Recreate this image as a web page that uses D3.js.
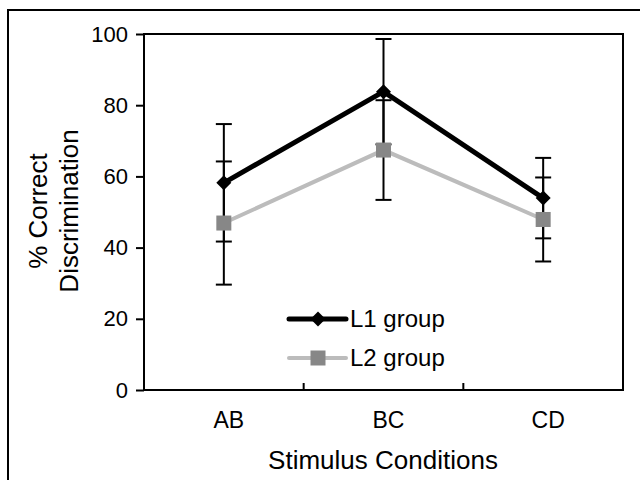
<!DOCTYPE html>
<html>
<head>
<meta charset="utf-8">
<script src="https://cdn.jsdelivr.net/npm/d3@7"></script>
<style>
  html, body { margin: 0; padding: 0; background: #fff; }
  svg { display: block; }
  text { font-family: "Liberation Sans", Arial, Helvetica, sans-serif; fill: #000; }
</style>
</head>
<body>
<svg id="chart" width="640" height="480"></svg>
<script>
const categories = ["AB", "BC", "CD"];
const l1Values = [58.2, 83.8, 53.9];
const l1Errors = [16.5, 14.8, 11.3];
const l2Values = [46.9, 67.4, 47.9];
const l2Errors = [17.3, 14.0, 11.8];
const yTicks = [0, 20, 40, 60, 80, 100];
const seriesNames = ["L1 group", "L2 group"];
const xTitle = "Stimulus Conditions";
const yTitleLines = ["% Correct", "Discrimination"];

const svg = d3.select("#chart");
const plotL = 144, plotR = 623, plotT = 34, plotB = 390;

// outer frame
svg.append("rect")
  .attr("x", 8).attr("y", 10).attr("width", 660).attr("height", 500)
  .attr("fill", "none").attr("stroke", "#000").attr("stroke-width", 2);

const x = d3.scaleBand().domain(categories).range([plotL, plotR]);
const y = d3.scaleLinear().domain([0, 100]).range([plotB, plotT]);

// plot box
svg.append("rect")
  .attr("x", plotL).attr("y", plotT)
  .attr("width", plotR - plotL).attr("height", plotB - plotT)
  .attr("fill", "none").attr("stroke", "#000").attr("stroke-width", 2);

// y axis
const yAxis = d3.axisLeft(y).tickValues(yTicks).tickSize(8).tickSizeOuter(0).tickPadding(8);
const gy = svg.append("g").attr("transform", `translate(${plotL},0)`).call(yAxis);
gy.select(".domain").remove();
gy.selectAll(".tick line").attr("stroke", "#000").attr("stroke-width", 2);
gy.selectAll(".tick text").style("font-size", "22px").style("font-family", "'Liberation Sans', Arial, sans-serif").attr("fill", "#000");

// x axis: ticks at band boundaries (inside), labels at centers
categories.slice(1).forEach(c => {
  svg.append("line")
    .attr("x1", x(c)).attr("x2", x(c))
    .attr("y1", plotB).attr("y2", plotB - 7)
    .attr("stroke", "#000").attr("stroke-width", 2);
});
svg.selectAll(".xlab").data(categories).enter().append("text")
  .attr("class", "xlab")
  .attr("x", d => x(d) + x.bandwidth() / 2 + 5)
  .attr("y", 428)
  .attr("text-anchor", "middle")
  .style("font-size", "23px")
  .text(d => d);

// titles
svg.append("text")
  .attr("x", 383).attr("y", 469)
  .attr("text-anchor", "middle")
  .style("font-size", "26px")
  .text(xTitle);

const yt = svg.append("text")
  .attr("transform", "translate(47,211) rotate(-90)")
  .attr("text-anchor", "middle")
  .style("font-size", "26px");
yt.append("tspan").attr("x", 0).attr("y", 0).text(yTitleLines[0]);
yt.append("tspan").attr("x", 0).attr("y", 31).text(yTitleLines[1]);

const cx = d => x(d) + x.bandwidth() / 2;

const series = [
  { name: seriesNames[0], values: l1Values, errors: l1Errors, line: "#000", lw: 5, marker: "diamond", mfill: "#000" },
  { name: seriesNames[1], values: l2Values, errors: l2Errors, line: "#bcbcbc", lw: 4, marker: "square", mfill: "#878787" }
];

// error bars
series.forEach(s => {
  const g = svg.append("g");
  categories.forEach((c, i) => {
    const hi = y(s.values[i] + s.errors[i]);
    const lo = y(s.values[i] - s.errors[i]);
    g.append("line").attr("x1", cx(c)).attr("x2", cx(c)).attr("y1", hi).attr("y2", lo)
      .attr("stroke", "#000").attr("stroke-width", 2);
    [hi, lo].forEach(yy => {
      g.append("line").attr("x1", cx(c) - 8).attr("x2", cx(c) + 8).attr("y1", yy).attr("y2", yy)
        .attr("stroke", "#000").attr("stroke-width", 2);
    });
  });
});

const diamond = (px, py, r) => `M${px},${py - r}L${px + r},${py}L${px},${py + r}L${px - r},${py}Z`;

function drawMarker(g, s, px, py) {
  if (s.marker === "diamond") {
    g.append("path").attr("d", diamond(px, py, 7.5)).attr("fill", s.mfill);
  } else {
    g.append("rect").attr("x", px - 7.5).attr("y", py - 7.5).attr("width", 15).attr("height", 15).attr("fill", s.mfill);
  }
}

// lines (L2 drawn first so L1 sits above)
const lineGen = d3.line().x(d => cx(d.c)).y(d => y(d.v));
[series[1], series[0]].forEach(s => {
  const pts = categories.map((c, i) => ({ c, v: s.values[i] }));
  svg.append("path").datum(pts).attr("d", lineGen)
    .attr("fill", "none").attr("stroke", s.line).attr("stroke-width", s.lw)
    .attr("stroke-linejoin", "miter");
});
series.forEach(s => {
  const g = svg.append("g");
  categories.forEach((c, i) => drawMarker(g, s, cx(c), y(s.values[i])));
});

// legend
const legY = [319, 358];
series.forEach((s, i) => {
  const g = svg.append("g");
  g.append("line").attr("x1", 289).attr("x2", 346).attr("y1", legY[i]).attr("y2", legY[i])
    .attr("stroke", s.line).attr("stroke-width", s.lw).attr("stroke-linecap", "round");
  drawMarker(g, s, 318, legY[i]);
  g.append("text").attr("x", 350).attr("y", legY[i] + 8)
    .style("font-size", "24px").text(s.name);
});
</script>
</body>
</html>
